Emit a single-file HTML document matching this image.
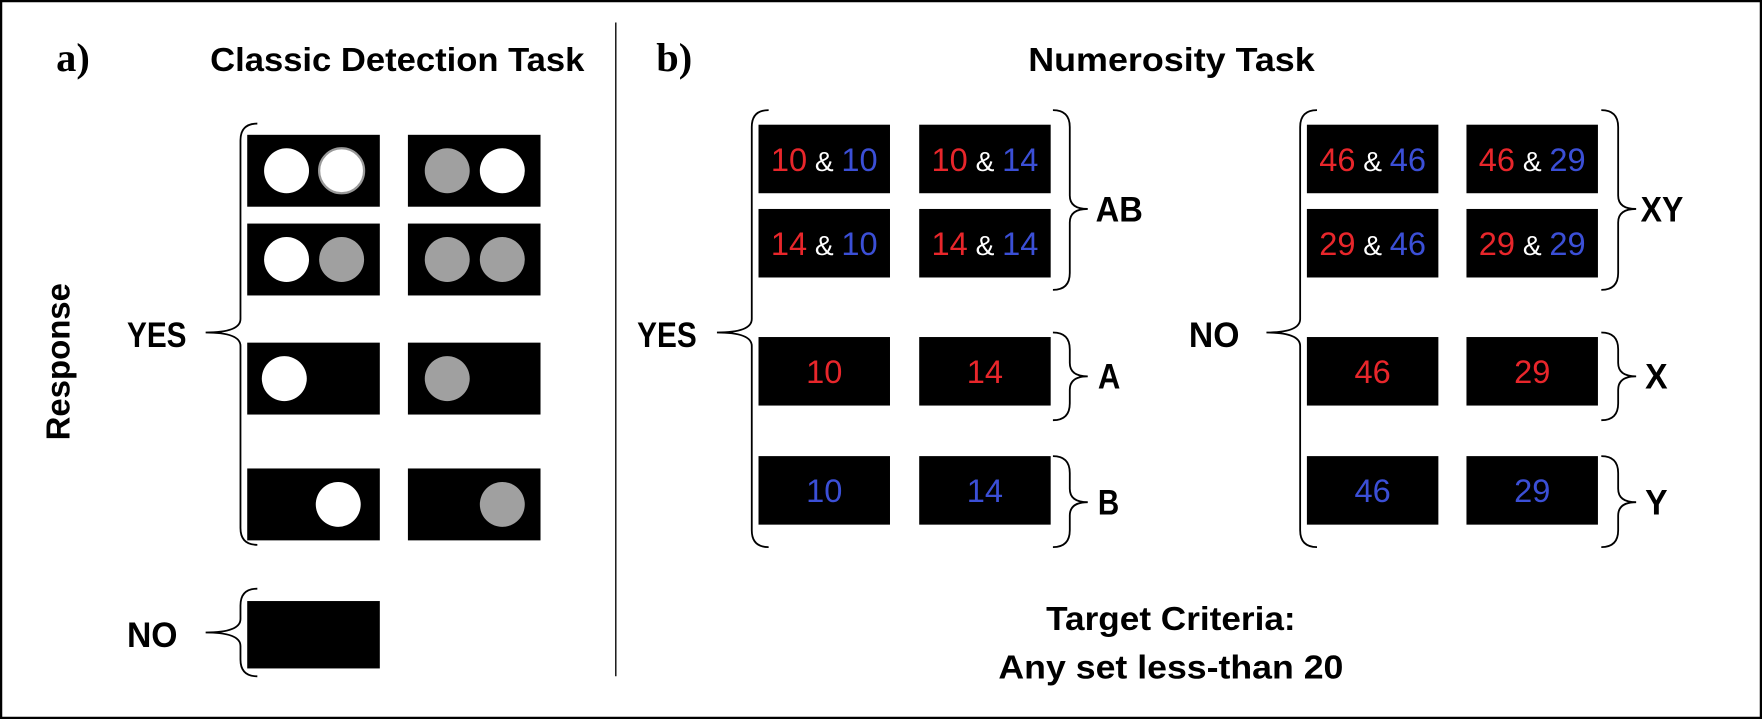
<!DOCTYPE html>
<html><head><meta charset="utf-8"><style>
html,body{margin:0;padding:0;background:#fff}
svg{display:block}
text{font-family:"Liberation Sans",sans-serif;font-weight:bold;fill:#000}
</style></head><body>
<svg id="fig" width="1762" height="719" viewBox="0 0 1568 640" preserveAspectRatio="none" xmlns="http://www.w3.org/2000/svg">
<rect x="1" y="1" width="1566" height="638" fill="#fff" stroke="#000" stroke-width="2"/>
<line x1="548" y1="20" x2="548" y2="602" stroke="#000" stroke-width="1.2"/>
<text x="50" y="63" font-size="36" style="font-family:'Liberation Serif',serif">a)</text>
<text x="584" y="63" font-size="36" style="font-family:'Liberation Serif',serif">b)</text>
<text x="187" y="63" font-size="30" textLength="333" lengthAdjust="spacingAndGlyphs">Classic Detection Task</text>
<text x="915" y="63" font-size="30" textLength="255" lengthAdjust="spacingAndGlyphs">Numerosity Task</text>
<text transform="translate(62,322) rotate(-90)" text-anchor="middle" font-size="30" textLength="140" lengthAdjust="spacingAndGlyphs">Response</text>
<text x="1042" y="561" text-anchor="middle" font-size="30" textLength="222" lengthAdjust="spacingAndGlyphs">Target Criteria:</text>
<text x="1042" y="604" text-anchor="middle" font-size="30" textLength="307" lengthAdjust="spacingAndGlyphs">Any set less-than 20</text>
<g id="g"></g>
</svg>
<script>
const NS="http://www.w3.org/2000/svg";
const g=document.getElementById('g');
function mk(tag,attrs,name){const e=document.createElementNS(NS,tag);for(const k in attrs)e.setAttribute(k,attrs[k]);


g.appendChild(e);return e;}
function lbl(x,y,t,w,name){const e=mk('text',{x:x,y:y,'font-size':31,textLength:w,lengthAdjust:'spacingAndGlyphs'},name);e.textContent=t;}
function brace(sx,top,bot,tipx,tipy,dir,name){
 const ex=sx+dir*15;
 const d=`M${ex},${top} Q${sx},${top} ${sx},${top+15} L${sx},${tipy-12} Q${sx},${tipy} ${tipx},${tipy} Q${sx},${tipy} ${sx},${tipy+12} L${sx},${bot-15} Q${sx},${bot} ${ex},${bot}`;
 mk('path',{d:d,fill:'none',stroke:'#000','stroke-width':1.6},name);}
// Panel a
const aCols=[220,363], aRows=[120,199,305,417];
const circles=[[[255,'#fff'],[304,'#fff','ring']],[[398,'#a0a0a0'],[447,'#fff']],
 [[255,'#fff'],[304,'#a0a0a0']],[[398,'#a0a0a0'],[447,'#a0a0a0']],
 [[253,'#fff']],[[398,'#a0a0a0']],[[301,'#fff']],[[447,'#a0a0a0']]];
let k=0;
aRows.forEach((y,ri)=>{aCols.forEach((x,ci)=>{
 mk('rect',{x:x,y:y,width:118,height:64,fill:'#000'},'stimulus-box');
 circles[k].forEach(c=>{mk('circle',{cx:c[0],cy:y+32,r:20,fill:c[1],stroke:c[2]?'#999':'none','stroke-width':2},'stimulus-disc');});
 k++;});});
mk('rect',{x:220,y:535,width:118,height:60,fill:'#000'},'blank-box');
brace(214,110,485,183,296,1,'yes-brace-a');
lbl(113,309,'YES',53,'yes-label-a');
brace(214,524,602,183,563,1,'no-brace-a');
lbl(113,576,'NO',45,'no-label-a');
// Panel b
const RED='#e8262b',BLUE='#3b4fd6';
function numBox(x,y,parts){mk('rect',{x:x,y:y,width:117,height:61,fill:'#000'},'number-box');
 const t=mk('text',{x:x+58.5,y:y+41,'text-anchor':'middle','font-size':29,style:'font-weight:normal'},'number-text');
 parts.forEach(p=>{const s=document.createElementNS(NS,'tspan');s.setAttribute('fill',p[1]);if(p[2])s.setAttribute('font-size','25');s.textContent=p[0];t.appendChild(s);});}
const bRows=[111,186,300,406];
function group(x1,x2,a,b){
 numBox(x1,bRows[0],[[a,RED],[' & ','#fff',1],[a,BLUE]]);
 numBox(x2,bRows[0],[[a,RED],[' & ','#fff',1],[b,BLUE]]);
 numBox(x1,bRows[1],[[b,RED],[' & ','#fff',1],[a,BLUE]]);
 numBox(x2,bRows[1],[[b,RED],[' & ','#fff',1],[b,BLUE]]);
 numBox(x1,bRows[2],[[a,RED]]);numBox(x2,bRows[2],[[b,RED]]);
 numBox(x1,bRows[3],[[a,BLUE]]);numBox(x2,bRows[3],[[b,BLUE]]);}
group(675,818,'10','14');
group(1163,1305,'46','29');
brace(669,98,487,638,296,1,'yes-brace-b');
lbl(567,309,'YES',53,'yes-label-b');
brace(1157,98,487,1127,296,1,'no-brace-b');
lbl(1058,309,'NO',45,'no-label-b');
brace(952,98,258,968,186,-1,'ab-brace');lbl(975,197,'AB',42,'ab-label');
brace(952,296,374,968,335,-1,'a-brace');lbl(977,346,'A',20,'a-label');
brace(952,406,487,968,447,-1,'b-brace');lbl(977,458,'B',19,'b-label');
brace(1440,98,258,1456,186,-1,'xy-brace');lbl(1460,197,'XY',38,'xy-label');
brace(1440,296,374,1456,335,-1,'x-brace');lbl(1464,346,'X',20,'x-label');
brace(1440,406,487,1456,447,-1,'y-brace');lbl(1464,458,'Y',20,'y-label');
</script>
</body></html>
